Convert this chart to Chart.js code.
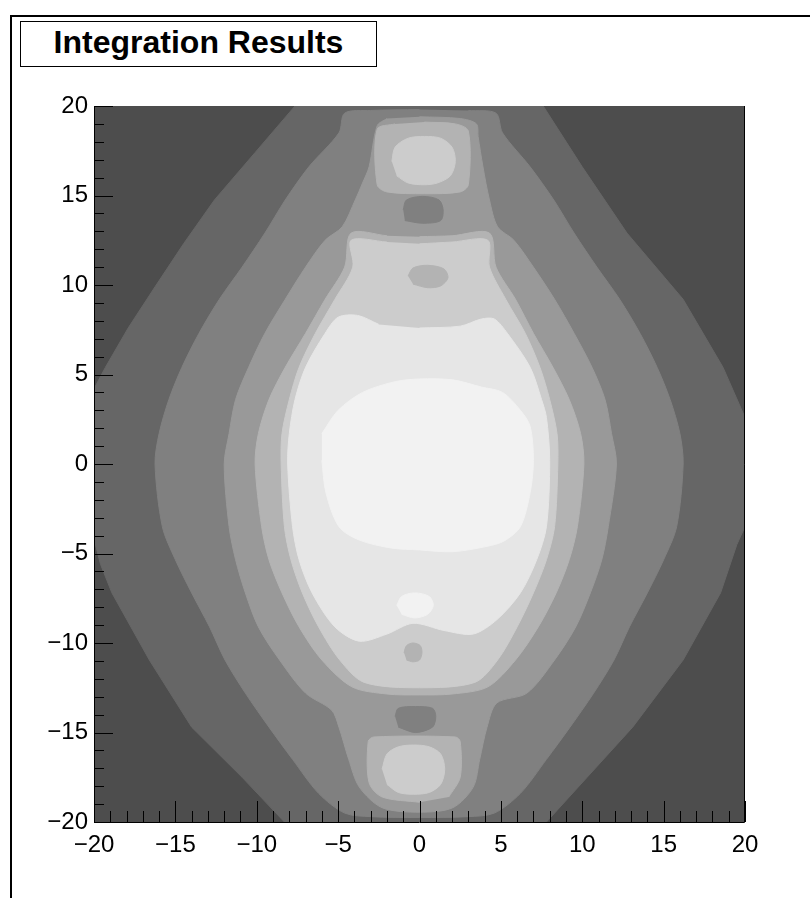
<!DOCTYPE html>
<html lang="en">
  <head>
    <meta charset="UTF-8">
    <title>Integration Results</title>
    <script src="https://cdn.jsdelivr.net/npm/chart.js@4.4.1/dist/chart.umd.min.js"></script>
    <style>
      body { margin: 0; background: #fff; }
      #wrap { position: relative; width: 810px; height: 898px; overflow: hidden; }
      #frameTop { position: absolute; left: 11px; top: 15px; width: 799px; height: 2px; background: #000; }
      #frameLeft { position: absolute; left: 10px; top: 15px; width: 2px; height: 883px; background: #000; }
      #title {
        position: absolute; left: 20px; top: 21px; width: 355px; height: 44px;
        border: 1px solid #000; background: #fff;
        font: bold 32px "Liberation Sans", Arial, sans-serif;
        line-height: 40px; text-align: center; color: #000;
      }
      canvas { position: absolute; left: 0; top: 0; }
    </style>
  </head>
  <body>
    <div id="wrap">
      <canvas id="chart" width="810" height="898"></canvas>
      <div id="frameTop"></div>
      <div id="frameLeft"></div>
      <div id="title">Integration Results</div>
    </div>
    <script type="text/javascript">
      // axis ticks
      const xTickValues = [-20, -15, -10, -5, 0, 5, 10, 15, 20]
      const xTickLabels = ['\u221220', '\u221215', '\u221210', '\u22125', '0', '5', '10', '15', '20']
      const yTickValues = [-20, -15, -10, -5, 0, 5, 10, 15, 20]
      const yTickLabels = ['\u221220', '\u221215', '\u221210', '\u22125', '0', '5', '10', '15', '20']
      const minorTicks = [-20, -19, -18, -17, -16, -15, -14, -13, -12, -11, -10, -9, -8, -7, -6, -5, -4, -3, -2, -1,
        0, 1, 2, 3, 4, 5, 6, 7, 8, 9, 10, 11, 12, 13, 14, 15, 16, 17, 18, 19, 20]

      // contour regions, [x, y] outlines, outermost level first
      const level0 = [[-20, 20], [20, 20], [20, -20], [-20, -20]]
      const level1 = [[-7.65, 20], [-10.1, 17.4], [-12.6, 14.75], [-14.5, 12.3], [-16.25, 9.9], [-17.9, 7.6],
        [-19.3, 5.4], [-20, 4.2], [-20, -4.2], [-19.6, -5.6], [-18.9, -7.2], [-16.6, -10.95], [-14.0, -14.7],
        [-10.9, -17.5], [-8.3, -20], [7.8, -20], [10.3, -17.5], [13.1, -14.7], [16.2, -10.95], [18.5, -7.2],
        [19.5, -4.5], [20, -3.5], [20, 2.6], [18.65, 5.4], [16.2, 9.2], [12.75, 12.9], [10.0, 16.6], [7.6, 20]]
      const level2 = [[0, 19.8], [-3, 19.75], [-4.6, 19.6], [-4.95, 18.5], [-6.8, 16.6], [-8.25, 14.75],
        [-9.5, 12.9], [-10.9, 11.0], [-12.3, 9.2], [-13.55, 7.3], [-14.6, 5.4], [-15.4, 3.6], [-16.0, 1.7],
        [-16.25, 0], [-15.8, -3.5], [-15.0, -5.35], [-14.0, -7.2], [-12.9, -9.1], [-11.95, -10.95], [-10.7, -12.8],
        [-9.25, -14.7], [-7.8, -16.5], [-6.2, -18.4], [-4.6, -19.5], [-3, -19.7], [0, -19.75], [3, -19.7],
        [4.6, -19.5], [6.2, -18.4], [7.8, -16.5], [9.25, -14.7], [10.7, -12.8], [11.95, -10.95], [12.9, -9.1],
        [14.0, -7.2], [15.0, -5.35], [15.8, -3.5], [16.2, 0], [16.0, 1.7], [15.4, 3.6], [14.6, 5.4], [13.55, 7.3],
        [12.3, 9.2], [10.9, 11.0], [9.5, 12.9], [8.25, 14.75], [6.8, 16.6], [5.1, 18.5], [4.7, 19.6], [3, 19.75]]
      const level3 = [[-2.0, 19.3], [-2.6, 18.9], [-3.1, 16.6], [-3.5, 15.7], [-3.95, 14.75], [-4.75, 13.25],
        [-5.8, 12.5], [-7.0, 11.0], [-8.25, 9.2], [-9.5, 7.3], [-10.5, 5.4], [-11.3, 3.6], [-11.7, 1.7], [-12.0, 0],
        [-11.7, -3.5], [-11.3, -5.35], [-10.7, -7.2], [-9.9, -9.1], [-8.6, -10.95], [-7.0, -12.8], [-5.4, -13.75],
        [-4.95, -14.7], [-4.35, -16.5], [-3.7, -18.05], [-2.3, -19.2], [0, -19.45], [2.05, -19.2], [3.3, -18.05],
        [3.7, -16.5], [4.15, -14.7], [4.75, -13.35], [6.6, -12.8], [8.3, -10.95], [9.6, -9.1], [10.5, -7.2],
        [11.2, -5.35], [11.6, -3.5], [12.1, 0], [11.8, 1.7], [11.4, 3.6], [10.6, 5.4], [9.5, 7.3], [8.3, 9.2],
        [7.0, 11.0], [5.8, 12.5], [4.8, 13.25], [4.3, 14.75], [3.9, 16.6], [3.6, 18.3], [3.5, 19.0], [2.5, 19.3],
        [0, 19.4]]
      const level4 = [[0, 12.7], [2, 12.75], [4.3, 12.9], [4.7, 11.0], [5.9, 9.2], [7.0, 7.3], [8.2, 5.4],
        [9.2, 3.6], [9.9, 1.7], [10.1, 0], [9.7, -3.5], [9.2, -5.35], [8.4, -7.2], [7.3, -9.1], [5.9, -10.95],
        [4.2, -12.45], [2, -12.85], [0, -12.9], [-2, -12.85], [-4.15, -12.45], [-6.0, -10.95], [-7.4, -9.1],
        [-8.45, -7.2], [-9.25, -5.35], [-9.7, -3.5], [-10.1, 0], [-9.9, 1.7], [-9.25, 3.6], [-8.25, 5.4],
        [-7.0, 7.3], [-5.8, 9.2], [-4.6, 11.0], [-4.2, 12.9], [-2, 12.75]]
      const level4Top = [[0.3, 19.1], [2.2, 19.0], [3.0, 18.6], [3.0, 15.6], [2.5, 15.2], [0.3, 15.1], [-2, 15.2],
        [-2.6, 15.6], [-2.6, 18.7], [-1.5, 19.0]]
      const level4Bottom = [[0, -18.9], [-2.3, -18.6], [-3.1, -17.8], [-3.15, -15.5], [-2.8, -15.25],
        [2.2, -15.25], [2.5, -15.5], [2.5, -17.5], [1.8, -18.6]]
      const level5 = [[0, 12.3], [2, 12.4], [4.2, 12.5], [4.3, 11.0], [5.3, 9.2], [6.5, 7.3], [7.4, 5.4],
        [8.0, 3.6], [8.45, 1.7], [8.5, 0], [8.3, -3.5], [7.8, -5.35], [7.0, -7.2], [6.0, -9.1], [4.8, -10.95],
        [3.4, -12.2], [0, -12.5], [-3.4, -12.2], [-4.9, -10.95], [-6.2, -9.1], [-7.2, -7.2], [-7.9, -5.35],
        [-8.3, -3.5], [-8.5, 0], [-8.45, 1.7], [-8.0, 3.6], [-7.4, 5.4], [-6.4, 7.3], [-5.2, 9.2], [-4.1, 11.0],
        [-4.2, 12.5], [-2, 12.4]]
      const level5Top = [[-1.7, 16.9], [-1.5, 17.7], [-0.7, 18.2], [0.3, 18.3], [1.3, 18.2], [2.0, 17.7],
        [2.2, 16.9], [1.9, 16.1], [1.1, 15.7], [0.3, 15.6], [-0.7, 15.7], [-1.4, 16.1]]
      const level5Bottom = [[-2.3, -17.05], [-2.0, -16.2], [-1.3, -15.8], [-0.35, -15.7], [0.6, -15.8],
        [1.3, -16.2], [1.55, -17.05], [1.3, -17.9], [0.6, -18.35], [-0.35, -18.45], [-1.3, -18.35], [-2.0, -17.9]]
      const level6 = [[0, 7.6], [2.5, 7.7], [3.8, 8.1], [4.6, 8.1], [5.4, 7.3], [6.8, 5.4], [7.5, 3.6],
        [7.8, 2.6], [8.0, 0.2], [7.8, -3.5], [7.2, -5.35], [6.2, -7.2], [4.75, -8.7], [3.3, -9.5], [1.5, -9.3],
        [-0.4, -8.9], [-2.0, -9.5], [-3.7, -9.9], [-5.2, -9.1], [-6.6, -7.2], [-7.4, -5.35], [-7.8, -3.5],
        [-8.1, 0], [-8.0, 1.7], [-7.65, 3.6], [-7.0, 5.4], [-5.8, 7.3], [-5.0, 8.2], [-3.8, 8.3], [-2.5, 7.8]]
      const level7 = [[-6.0, 1.7], [-5.0, 3.0], [-3.5, 4.0], [-1.5, 4.6], [0, 4.75], [2.05, 4.7], [3.8, 4.3],
        [5.1, 4.0], [6.2, 3.0], [6.8, 2.1], [7.0, 0.2], [6.8, -1.6], [6.2, -3.5], [5.2, -4.3], [4.15, -4.6],
        [2.05, -4.9], [0, -4.8], [-1.7, -4.7], [-3.7, -4.25], [-4.95, -3.5], [-5.75, -1.6], [-6.0, 0.2]]
      const level7Spot = [[-1.4, -7.9], [-1.1, -7.4], [-0.3, -7.2], [0.6, -7.4], [0.85, -7.9], [0.5, -8.4],
        [-0.3, -8.6], [-1.1, -8.4]]
      // darker islands
      const dip2Top = [[-1.0, 14.2], [-0.8, 14.75], [0.2, 14.95], [1.2, 14.75], [1.45, 14.2], [1.3, 13.6],
        [0.2, 13.45], [-0.9, 13.6]]
      const dip2Bottom = [[-1.5, -14.1], [-1.3, -13.65], [-0.25, -13.55], [0.8, -13.65], [1.0, -14.1],
        [0.8, -14.7], [-0.25, -15.0], [-1.3, -14.7]]
      const dip4Top = [[-0.7, 10.5], [-0.4, 10.95], [0.5, 11.1], [1.5, 10.9], [1.75, 10.4], [1.3, 9.95],
        [0.5, 9.85], [-0.4, 10.05]]
      const dip4Bottom = [[-0.95, -10.55], [-0.8, -10.15], [-0.4, -10.0], [0.05, -10.15], [0.15, -10.55],
        [0.0, -10.95], [-0.4, -11.05], [-0.8, -10.95]]

      const grays = ['#4d4d4d', '#666666', '#808080', '#999999', '#b3b3b3', '#cccccc', '#e6e6e6', '#f2f2f2']
      const regions = [
        [level0, 0], [level1, 1], [level2, 2], [level3, 3],
        [level4, 4], [level4Top, 4], [level4Bottom, 4],
        [level5, 5], [level5Top, 5], [level5Bottom, 5],
        [level6, 6], [level7, 7], [level7Spot, 7],
        [dip2Top, 2], [dip2Bottom, 2], [dip4Top, 4], [dip4Bottom, 4]
      ]

      const axisTicks = {
        id: 'axisTicks',
        afterDatasetsDraw(chart) {
          const {ctx, chartArea: a, scales: {x, y}} = chart
          ctx.save()
          ctx.strokeStyle = '#000'
          ctx.lineWidth = 1
          ctx.beginPath()
          ctx.moveTo(a.left + 0.5, a.top)
          ctx.lineTo(a.left + 0.5, a.bottom + 0.5)
          ctx.lineTo(a.right - 0.5, a.bottom + 0.5)
          ctx.lineTo(a.right - 0.5, a.top)
          minorTicks.forEach(v => {
            const major = yTickValues.includes(v)
            const py = Math.round(y.getPixelForValue(v)) + 0.5
            ctx.moveTo(a.left, py)
            ctx.lineTo(a.left + (major ? 19 : 10), py)
          })
          minorTicks.forEach(v => {
            const major = xTickValues.includes(v)
            const px = Math.round(x.getPixelForValue(v)) + 0.5
            ctx.moveTo(px, a.bottom)
            ctx.lineTo(px, a.bottom - (major ? 21 : 11))
          })
          ctx.stroke()
          ctx.restore()
        }
      }

      const tickFont = {family: '"Liberation Sans", Arial, sans-serif', size: 24}
      const ctx = document.getElementById('chart').getContext('2d')
      const chart = new Chart(ctx, {
        type: 'line',
        data: {
          // chart.js paints lower "order" on top, so later regions get lower order
          datasets: regions.map(([pts, lvl], i) => ({
            data: pts.map(([px, py]) => ({x: px, y: py})),
            order: regions.length - i,
            backgroundColor: grays[lvl],
            borderColor: grays[lvl],
            borderWidth: 1,
            pointRadius: 0,
            tension: i < 2 ? 0 : 0.3,
            fill: 'shape'
          }))
        },
        options: {
          responsive: false,
          animation: false,
          events: [],
          devicePixelRatio: 1,
          layout: {padding: {left: 0, top: 106, right: 65, bottom: 0}},
          plugins: {legend: {display: false}, tooltip: {enabled: false}, title: {display: false}},
          scales: {
            x: {
              type: 'linear', min: -20, max: 20,
              afterBuildTicks: s => { s.ticks = xTickValues.map(v => ({value: v})) },
              afterFit: s => { s.height = 76 },
              grid: {display: false, drawTicks: false},
              border: {display: false},
              ticks: {
                autoSkip: false, maxRotation: 0, padding: 9, color: '#000', font: tickFont,
                callback: (v, i) => xTickLabels[i]
              }
            },
            y: {
              type: 'linear', min: -20, max: 20,
              afterBuildTicks: s => { s.ticks = yTickValues.map(v => ({value: v})) },
              afterFit: s => { s.width = 94 },
              grid: {display: false, drawTicks: false},
              border: {display: false},
              ticks: {
                padding: 6, color: '#000', font: tickFont,
                callback: (v, i) => yTickLabels[i]
              }
            }
          }
        },
        plugins: [axisTicks]
      })
    </script>
  </body>
</html>
